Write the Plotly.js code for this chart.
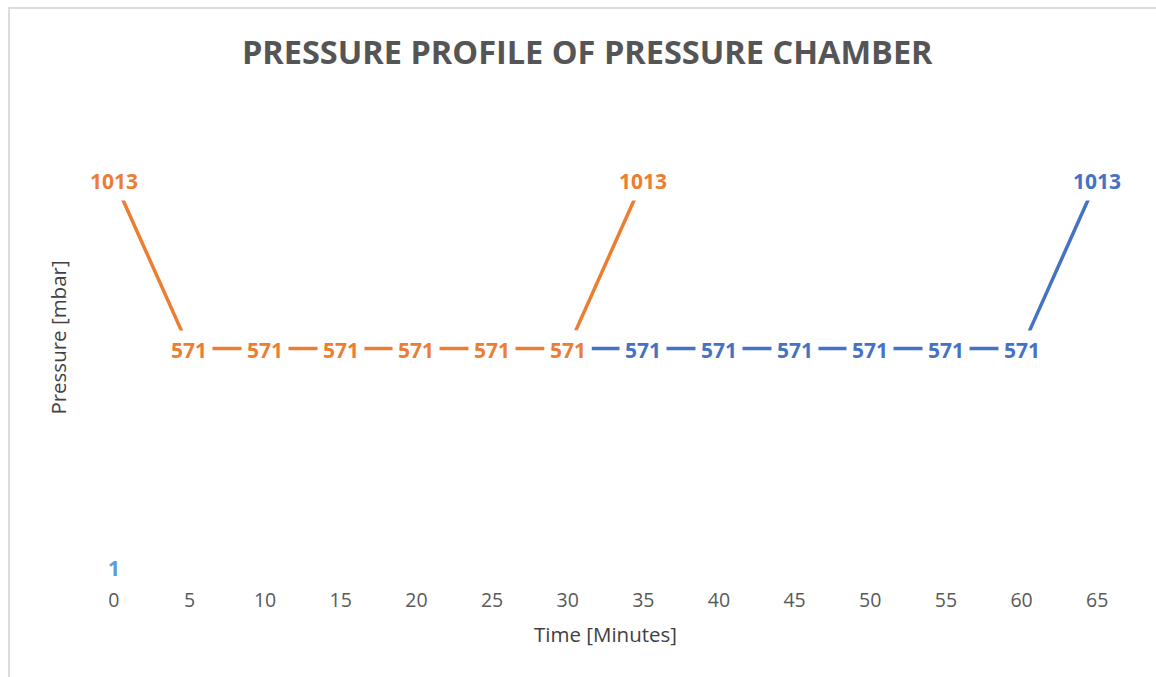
<!DOCTYPE html>
<html>
<head>
<meta charset="utf-8">
<script src="https://cdn.plot.ly/plotly-3.0.1.min.js"></script>
<style>
  html, body { margin: 0; padding: 0; background: #fff; overflow: hidden; }
  #chart { width: 1156px; height: 677px; }
  #frame { position: absolute; left: 8px; top: 7px; width: 1300px; height: 800px;
           border-top: 2px solid #dcdcdc; border-left: 2px solid #dcdcdc; pointer-events: none; }
</style>
</head>
<body>
<div id="chart"></div>
<div id="frame"></div>
<script>
// Data
const timeTicks = [0, 5, 10, 15, 20, 25, 30, 35, 40, 45, 50, 55, 60, 65];
const orangeTime = [0, 5, 10, 15, 20, 25, 30, 35];
const orangePressure = [1013, 571, 571, 571, 571, 571, 571, 1013];
const blueTime = [30, 35, 40, 45, 50, 55, 60, 65];
const bluePressure = [571, 571, 571, 571, 571, 571, 571, 1013];
const startTime = [0];
const startPressure = [1];

const ORANGE = '#ED7D31';
const BLUE = '#4472C4';
const LIGHTBLUE = '#5B9BD5';
const FONT = 'Open Sans, sans-serif';

const traces = [
  { x: blueTime, y: bluePressure, type: 'scatter', mode: 'lines',
    line: { color: BLUE, width: 3.5 }, hoverinfo: 'skip', showlegend: false },
  { x: orangeTime, y: orangePressure, type: 'scatter', mode: 'lines',
    line: { color: ORANGE, width: 3.5 }, hoverinfo: 'skip', showlegend: false },
  { x: startTime, y: startPressure, type: 'scatter', mode: 'lines',
    line: { color: LIGHTBLUE, width: 3.5 }, hoverinfo: 'skip', showlegend: false }
];

function labels(xs, ys, color) {
  return xs.map((x, i) => ({
    x: x, y: ys[i], xref: 'x', yref: 'y', text: '<b>' + ys[i] + '</b>',
    showarrow: false, bgcolor: '#ffffff', borderpad: 5, yshift: -1,
    font: { family: FONT, size: 21, color: color }
  }));
}

const annotations = [].concat(
  labels(startTime, startPressure, LIGHTBLUE),
  labels(blueTime, bluePressure, BLUE),
  labels(orangeTime, orangePressure, ORANGE)
);

const layout = {
  width: 1156, height: 677,
  margin: { l: 76, r: 21, t: 108, b: 110 },
  paper_bgcolor: '#ffffff', plot_bgcolor: '#ffffff',
  title: { text: '<b>PRESSURE PROFILE OF PRESSURE CHAMBER</b>', x: 0.508, xanchor: 'center',
           y: 0.922, yanchor: 'middle',
           font: { family: FONT, size: 32.5, color: '#555555' } },
  xaxis: {
    range: [-2.5, 67.5], tickvals: timeTicks, ticktext: timeTicks.map(String),
    showgrid: false, zeroline: false, showline: false, ticks: '',
    ticklabelstandoff: 19,
    tickfont: { family: FONT, size: 19.5, color: '#595959' },
    title: { text: 'Time [Minutes]', standoff: 16, font: { family: FONT, size: 20.5, color: '#404040' } }
  },
  yaxis: {
    range: [0, 1200], showgrid: false, zeroline: false, showline: false, ticks: '',
    showticklabels: false,
    title: { text: 'Pressure [mbar]', standoff: 2, font: { family: FONT, size: 20.5, color: '#404040' } }
  },
  annotations: annotations,
  showlegend: false
};

Plotly.newPlot('chart', traces, layout, { staticPlot: true });
</script>
</body>
</html>
